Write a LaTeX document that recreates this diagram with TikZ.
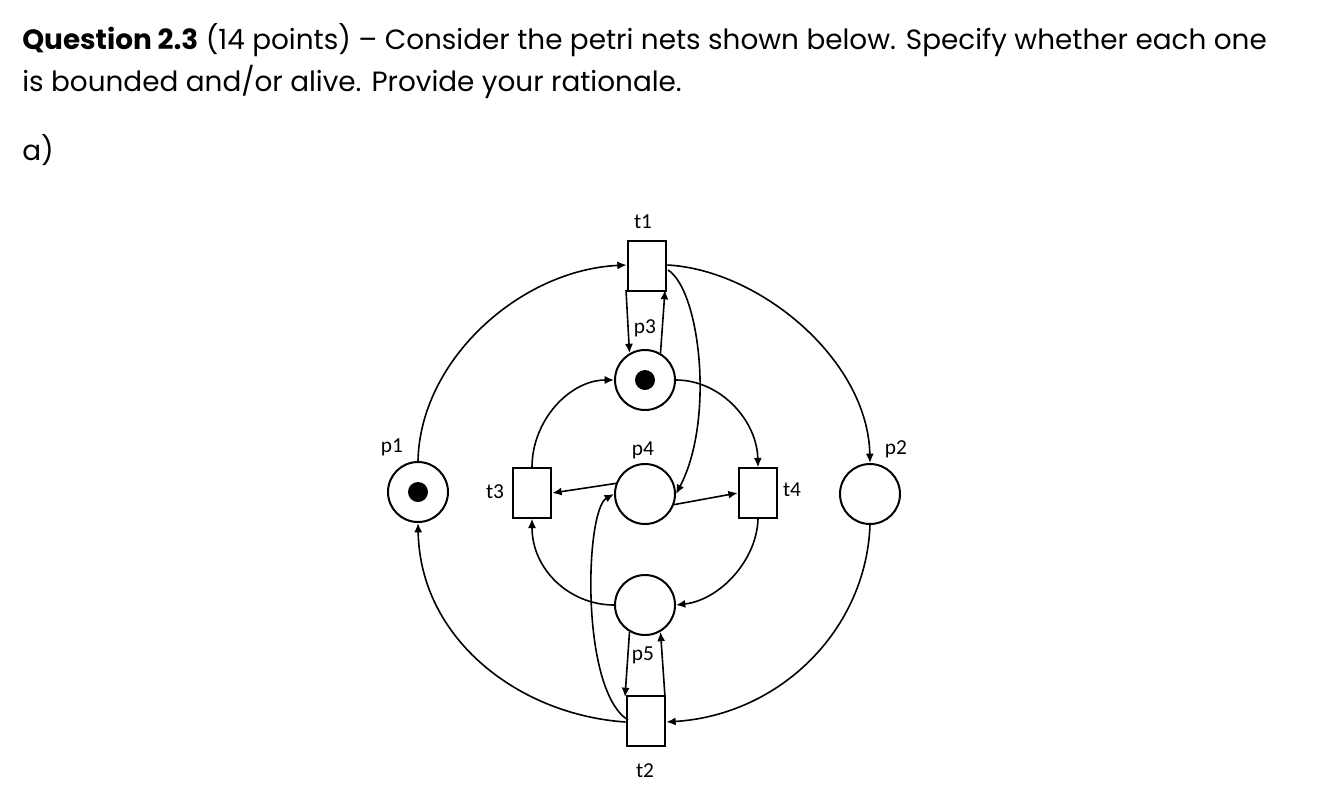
\documentclass[tikz,border=0pt]{standalone}
\usepackage{fontspec}
\setmainfont{Poppins}
\newfontfamily\lab{Carlito}
\usetikzlibrary{arrows.meta}
\begin{document}
\begin{tikzpicture}[x=0.75pt,y=-0.75pt,
  place/.style={draw,circle,line width=1.5pt,minimum size=45pt,inner sep=0pt},
  trans/.style={draw,rectangle,line width=1.5pt,minimum width=29pt,minimum height=37pt,inner sep=0pt},
  arc/.style={line width=1.2pt,-{Latex[length=7pt,width=6pt]}},
  lbl/.style={font=\lab\fontsize{16}{19}\selectfont,inner sep=0pt},
  tok/.style={fill,circle,minimum size=15pt,inner sep=0pt}]
\useasboundingbox (0,0) rectangle (1322,804);
\node[anchor=west,inner sep=0pt,font=\fontsize{20.9}{25}\selectfont] (h1) at (22,40) {\textbf{Question 2.3} (14 points) – Consider the petri nets shown below. Specify whether each one};
\node[anchor=west,inner sep=0pt,font=\fontsize{20.9}{25}\selectfont] (h2) at (22,82) {is bounded and/or alive. Provide your rationale.};
\node[anchor=west,inner sep=0pt,font=\fontsize{20.9}{25}\selectfont] (h3) at (22,150) {a)};

\node[place] (p1) at (418,492) {}; \node[tok] (k1) at (p1) {};
\node[place] (p2) at (870,494) {};
\node[place] (p3) at (645,380) {}; \node[tok] (k3) at (p3) {};
\node[place] (p4) at (645,494) {};
\node[place] (p5) at (645,605) {};
\node[trans] (t1) at (647,266) {};
\node[trans] (t2) at (646,721) {};
\node[trans] (t3) at (532,493) {};
\node[trans] (t4) at (758,493) {};

\node[lbl] (l1) at (643,222) {t1};
\node[lbl] (l2) at (645,771) {t2};
\node[lbl] (l3) at (495,492) {t3};
\node[lbl] (l4) at (792,490) {t4};
\node[lbl] (lp1) at (392,447) {p1};
\node[lbl] (lp2) at (896,449) {p2};
\node[lbl] (lp3) at (645,328) {p3};
\node[lbl] (lp4) at (643,450) {p4};
\node[lbl] (lp5) at (643,655) {p5};

\draw[arc] (p1.north) .. controls (420,360) and (520,270) .. (t1.west |- 0,265);
\draw[arc] (t1.east |- 0,265) .. controls (760,270) and (868,360) .. (p2.north);
\draw[arc] (p2.south) .. controls (866,630) and (780,715) .. (t2.east |- 0,722);
\draw[arc] (t2.west |- 0,722) .. controls (520,715) and (420,640) .. (p1.south);
\draw[arc] (626,290) -- (p3.120);
\draw[arc] (p3.60) -- (665,290);
\draw[arc] (668,270) .. controls (700,290) and (715,420) .. (p4.east);
\draw[arc] (p3.east) .. controls (720,380) and (757,420) .. (t4.north);
\draw[arc] (t3.north) .. controls (532,420) and (570,380) .. (p3.west);
\draw[arc] (p4.160) -- (t3.east);
\draw[arc] (p4.-20) -- (t4.west);
\draw[arc] (t4.south) .. controls (757,560) and (720,600) .. (p5.east);
\draw[arc] (p5.west) .. controls (570,605) and (532,570) .. (t3.south);
\draw[arc] (p5.240) -- (625,697);
\draw[arc] (665,697) -- (p5.300);
\draw[arc] (628,720) .. controls (580,690) and (585,510) .. (p4.west);
\end{tikzpicture}
\end{document}
